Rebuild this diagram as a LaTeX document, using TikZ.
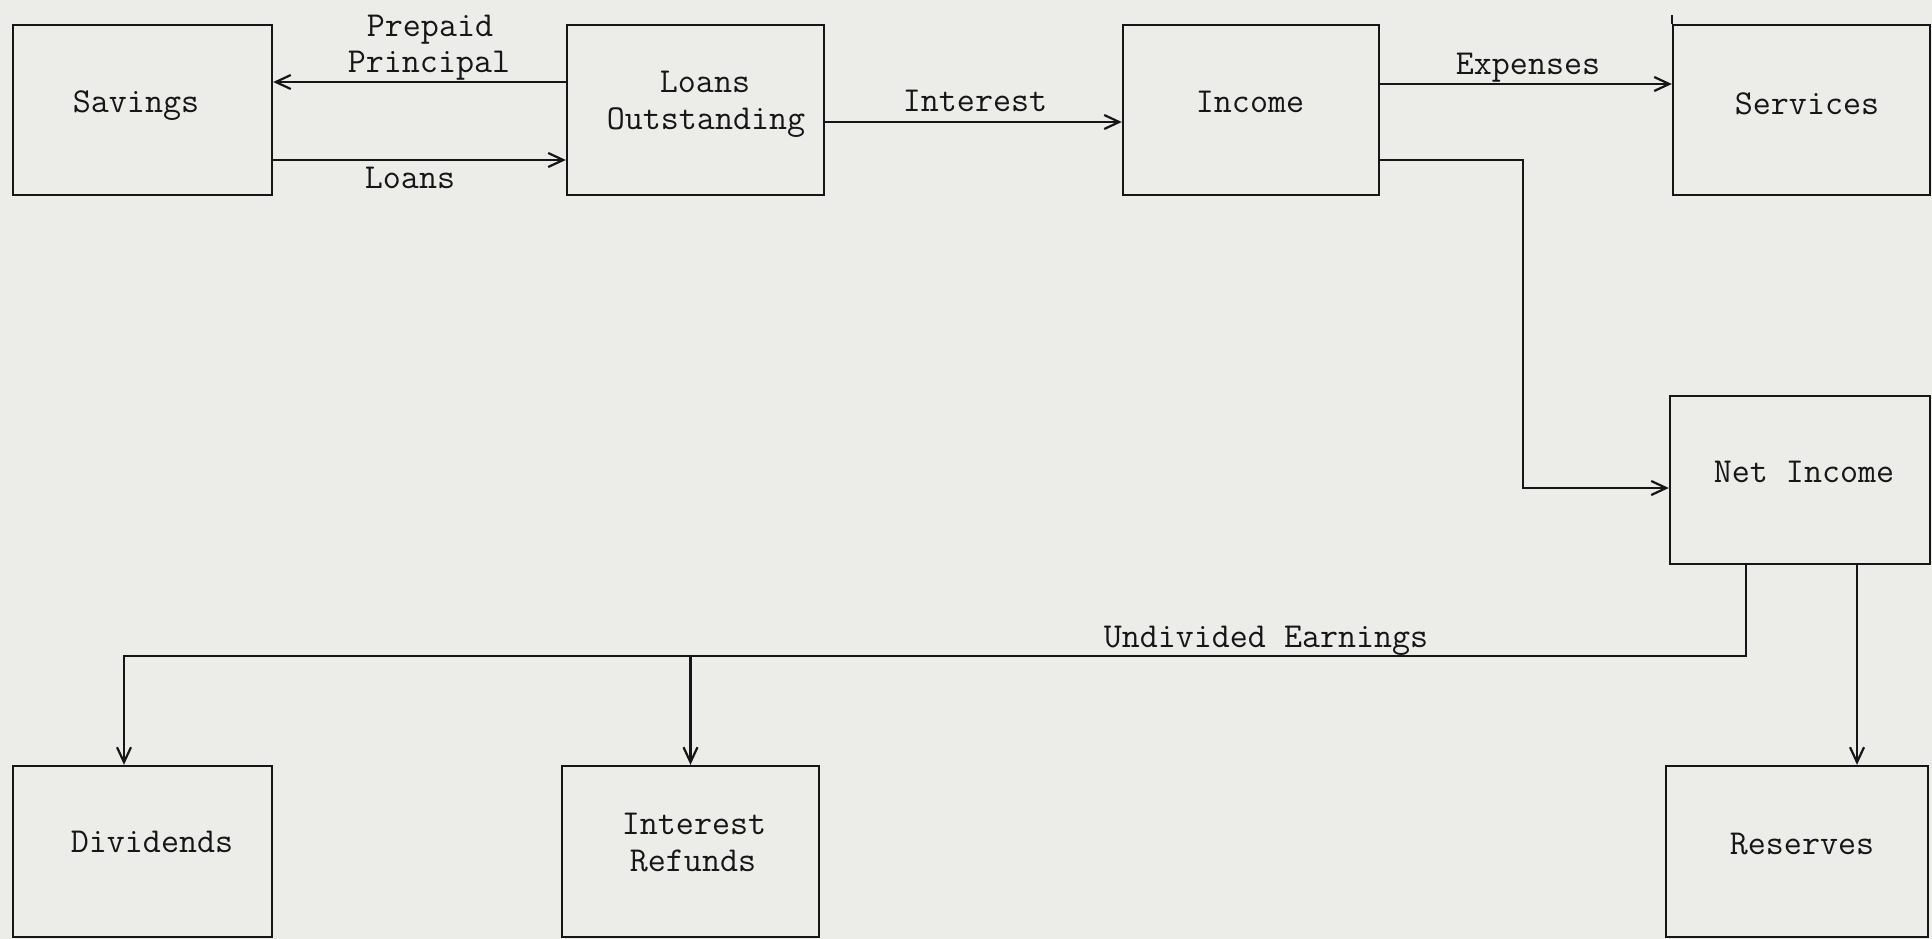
\documentclass[tikz,border=0pt]{standalone}
\usetikzlibrary{arrows.meta}
\definecolor{paper}{RGB}{236,236,233}
\definecolor{ink}{RGB}{22,22,22}
\begin{document}
\begin{tikzpicture}[x=1pt,y=-1pt,
  box/.style={draw=ink, line width=2.4pt, inner sep=0pt, minimum height=170pt},
  txt/.style={font=\fontsize{35}{37}\selectfont\ttfamily, text=ink, inner sep=0pt, anchor=base},
  ln/.style={draw=ink, line width=2.4pt, line join=miter},
  arr/.style={ln, -{Straight Barb[length=15pt,width=14pt,line width=2.2pt]}}]
\useasboundingbox (0,0) rectangle (1932,939);
\fill[paper] (0,0) rectangle (1932,939);

% boxes
\node[box, minimum width=259pt] (sav) at (142.5,110) {};
\node[box, minimum width=257pt] (lo)  at (695.5,110) {};
\node[box, minimum width=256pt] (inc) at (1251,110) {};
\node[box, minimum width=257pt] (ser) at (1801.5,110) {};
\node[box, minimum width=260pt, minimum height=168pt] (ni) at (1800,480) {};
\node[box, minimum width=259pt, minimum height=171pt] (div) at (142.5,851.5) {};
\node[box, minimum width=257pt, minimum height=171pt] (ir)  at (690.5,851.5) {};
\node[box, minimum width=262pt, minimum height=171pt] (res) at (1797,851.5) {};
\draw[ln] (ser.north west) -- ++(0,-9);

% box texts
\node[txt] (savT) at (136,113) {Savings};
\node[txt] (loT1) at (705,93) {Loans};
\node[txt] (loT2) at (706,130) {Outstanding};
\node[txt] (incT) at (1250,113) {Income};
\node[txt] (serT) at (1807,115) {Services};
\node[txt] (niT)  at (1804,482) {Net Income};
\node[txt] (divT) at (152,852) {Dividends};
\node[txt] (irT1) at (694,834) {Interest};
\node[txt] (irT2) at (693,871) {Refunds};
\node[txt] (resT) at (1802,854) {Reserves};

% connector labels
\node[txt] (ppT1) at (430,37) {Prepaid};
\node[txt] (ppT2) at (429,73) {Principal};
\node[txt] (lnT)  at (410,188) {Loans};
\node[txt] (intT) at (975,112) {Interest};
\node[txt] (expT) at (1528,75) {Expenses};
\node[txt] (ueT)  at (1266,647) {Undivided Earnings};

% connectors
\coordinate (ypp) at (0,82);
\coordinate (yln) at (0,160);
\coordinate (yint) at (0,122);
\coordinate (yexp) at (0,84);
\coordinate (bend) at (1523,160);
\coordinate (yni) at (0,488);
\coordinate (ue) at (1746,656);
\coordinate (ud) at (124,656);
\coordinate (xr) at (1857,0);

\draw[arr] (lo.west |- ypp) -- (sav.east |- ypp);
\draw[arr] (sav.east |- yln) -- (lo.west |- yln);
\draw[arr] (lo.east |- yint) -- (inc.west |- yint);
\draw[arr] (inc.east |- yexp) -- (ser.west |- yexp);
\draw[arr] (inc.east |- bend) -- (bend) -- (bend |- yni) -- (ni.west |- yni);
\draw[arr] (ni.south -| ue) -- (ue) -- (ud) -- (div.north -| ud);
\draw[arr] (ir.north |- ue) -- (ir.north);
\draw[arr] (ni.south -| xr) -- (res.north -| xr);
\end{tikzpicture}
\end{document}
